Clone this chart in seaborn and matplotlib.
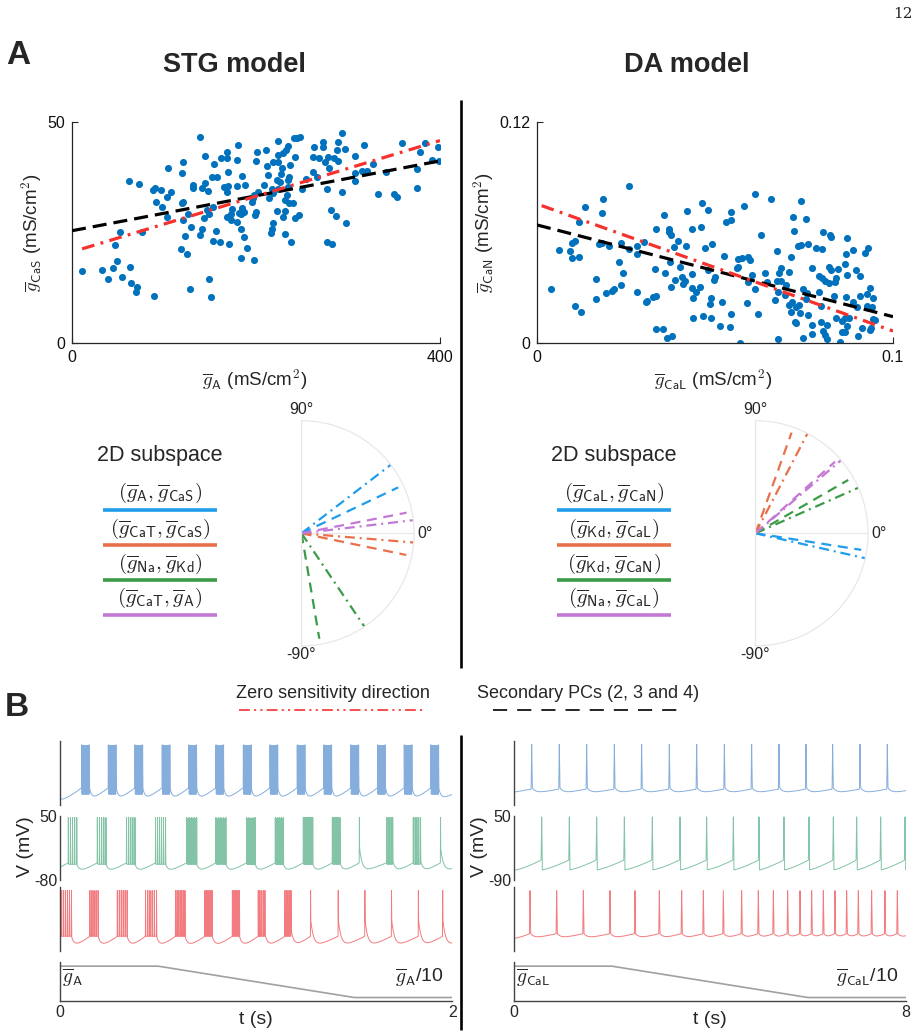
import numpy as np
import pandas as pd
import matplotlib
matplotlib.use("Agg")
import matplotlib.pyplot as plt
import seaborn as sns

# ----------------------------------------------------------------- data
# STG model scatter (mS/cm^2)
stg_gA = [139.1, 293.1, 240.9, 244.9, 247.4, 224.3, 359.0, 383.7, 288.8, 273.2,
          263.4, 272.4, 296.7, 288.4, 180.8, 200.7, 210.9, 232.6, 229.7, 223.5,
          168.8, 144.6, 161.6, 168.1, 179.0, 154.3, 120.6, 104.7, 119.2, 200.0,
          211.6, 218.1, 224.3, 227.9, 236.9, 242.4, 235.1, 262.3, 268.8, 278.6,
          275.0, 285.1, 289.5, 279.7, 307.6, 317.7, 397.4, 378.2, 390.9, 398.9,
          374.6, 341.3, 320.3, 307.6, 314.8, 326.8, 308.0, 374.6, 333.0, 350.0,
          352.9, 293.1, 297.8, 286.6, 281.1, 276.8, 282.2, 276.8, 262.3, 265.9,
          254.3, 249.6, 242.4, 247.1, 237.7, 231.5, 229.7, 231.5, 240.6, 235.9,
          231.5, 233.3, 234.4, 224.3, 226.1, 235.1, 235.9, 222.5, 226.8, 212.7,
          209.1, 217.0, 218.8, 214.1, 202.5, 198.2, 195.3, 197.1, 200.0, 198.9,
          188.0, 184.4, 179.7, 169.9, 165.2, 168.8, 169.9, 151.8, 157.2, 144.6,
          148.2, 140.9, 131.2, 131.9, 90.2, 88.4, 96.4, 107.2, 102.9, 90.9,
          97.5, 103.6, 121.0, 119.9, 126.4, 121.0, 129.0, 122.8, 118.1, 124.6,
          139.1, 140.9, 143.8, 149.3, 147.1, 152.9, 156.5, 153.6, 160.9, 171.0,
          172.5, 168.1, 172.5, 173.5, 181.9, 186.9, 184.4, 183.7, 179.0, 183.3,
          186.9, 189.8, 183.7, 197.8, 218.8, 217.0, 216.3, 222.5, 72.8, 62.0,
          76.4, 52.2, 46.7, 39.5, 33.0, 44.9, 49.3, 54.7, 63.0, 63.8,
          69.6, 71.0, 89.1, 128.3, 149.3, 150.7, 11.2]
stg_gCaS = [46.7, 47.6, 46.4, 46.4, 46.5, 45.8, 45.2, 45.3, 45.5, 45.5,
            44.3, 44.3, 44.0, 43.7, 44.9, 43.1, 43.7, 43.7, 42.9, 42.5,
            43.1, 42.4, 41.8, 41.8, 41.5, 40.5, 41.0, 39.7, 38.4, 41.2,
            40.1, 41.0, 41.0, 39.7, 40.3, 42.1, 44.6, 42.0, 41.8, 42.1,
            41.0, 41.8, 41.2, 39.7, 42.3, 44.9, 44.4, 43.1, 41.4, 41.2,
            39.4, 38.8, 38.9, 38.4, 39.0, 40.4, 36.6, 35.0, 33.7, 33.7,
            33.1, 34.2, 27.1, 28.7, 30.1, 22.8, 22.5, 34.8, 38.6, 37.5,
            37.2, 34.8, 28.2, 29.0, 22.8, 24.7, 28.4, 29.9, 31.6, 31.6,
            32.3, 33.5, 35.4, 34.8, 36.5, 36.9, 37.6, 36.9, 38.2, 38.0,
            35.7, 34.8, 33.9, 32.9, 34.1, 33.5, 32.0, 32.9, 29.7, 29.0,
            35.7, 37.8, 35.5, 38.8, 35.4, 34.1, 35.6, 37.5, 37.5, 36.1,
            34.4, 35.0, 35.7, 35.0, 35.1, 34.6, 34.6, 34.1, 33.1, 31.8,
            30.7, 28.6, 31.8, 31.6, 29.2, 27.8, 26.3, 24.3, 21.3, 20.1,
            24.4, 25.9, 28.2, 29.2, 30.1, 30.7, 25.3, 23.1, 22.8, 22.5,
            27.8, 28.6, 29.1, 30.3, 29.3, 29.7, 30.5, 29.1, 27.3, 25.9,
            23.9, 21.4, 19.2, 18.8, 27.2, 25.8, 25.0, 29.9, 35.9, 36.7,
            25.2, 25.2, 22.2, 14.4, 16.5, 16.9, 18.5, 15.0, 17.1, 13.6,
            11.6, 12.7, 10.7, 12.2, 14.5, 10.3, 16.4]
stg_pc_x = [0, 400]
stg_pc_y = [25.4, 41.2]
stg_zero_x = [11, 400]
stg_zero_y = [21.3, 45.8]

# DA model scatter (mS/cm^2)
da_gCaL = [0.0259, 0.0038, 0.0062, 0.0093, 0.0099, 0.0097, 0.0107, 0.0119, 0.0119, 0.0135,
           0.0184, 0.0182, 0.0174, 0.0182, 0.0203, 0.0235, 0.0259, 0.0280, 0.0301, 0.0282,
           0.0230, 0.0242, 0.0236, 0.0212, 0.0217, 0.0193, 0.0165, 0.0166, 0.0107, 0.0123,
           0.0282, 0.0310, 0.0306, 0.0325, 0.0334, 0.0333, 0.0353, 0.0364, 0.0378, 0.0358,
           0.0333, 0.0371, 0.0376, 0.0372, 0.0397, 0.0385, 0.0419, 0.0374, 0.0402, 0.0359,
           0.0332, 0.0388, 0.0408, 0.0411, 0.0416, 0.0375, 0.0422, 0.0464, 0.0481, 0.0436,
           0.0460, 0.0472, 0.0492, 0.0434, 0.0457, 0.0436, 0.0448, 0.0437, 0.0479, 0.0500,
           0.0497, 0.0488, 0.0487, 0.0519, 0.0439, 0.0465, 0.0489, 0.0514, 0.0543, 0.0546,
           0.0589, 0.0621, 0.0546, 0.0545, 0.0531, 0.0582, 0.0612, 0.0658, 0.0628, 0.0673,
           0.0713, 0.0741, 0.0720, 0.0723, 0.0756, 0.0734, 0.0742, 0.0762, 0.0783, 0.0800,
           0.0802, 0.0823, 0.0826, 0.0870, 0.0889, 0.0921, 0.0931, 0.0526, 0.0565, 0.0576,
           0.0593, 0.0597, 0.0563, 0.0566, 0.0604, 0.0593, 0.0612, 0.0641, 0.0647, 0.0684,
           0.0680, 0.0675, 0.0684, 0.0699, 0.0708, 0.0698, 0.0669, 0.0677, 0.0569, 0.0678,
           0.0715, 0.0713, 0.0709, 0.0727, 0.0737, 0.0746, 0.0759, 0.0756, 0.0772, 0.0739,
           0.0725, 0.0728, 0.0760, 0.0772, 0.0772, 0.0748, 0.0793, 0.0801, 0.0809, 0.0793,
           0.0797, 0.0797, 0.0814, 0.0804, 0.0809, 0.0814, 0.0821, 0.0826, 0.0821, 0.0846,
           0.0840, 0.0837, 0.0835, 0.0870, 0.0865, 0.0868, 0.0896, 0.0907, 0.0907, 0.0926,
           0.0935, 0.0945, 0.0926, 0.0940, 0.0898, 0.0889, 0.0868, 0.0840, 0.0856, 0.0865,
           0.0877, 0.0871, 0.0865, 0.0858, 0.0851, 0.0903, 0.0912, 0.0937, 0.0943, 0.0935,
           0.0949]
da_gCaN = [0.0854, 0.0291, 0.0505, 0.0500, 0.0463, 0.0541, 0.0554, 0.0659, 0.0469, 0.0740,
           0.0780, 0.0704, 0.0536, 0.0541, 0.0527, 0.0545, 0.0509, 0.0529, 0.0550, 0.0481,
           0.0442, 0.0378, 0.0315, 0.0284, 0.0293, 0.0270, 0.0346, 0.0239, 0.0201, 0.0167,
           0.0275, 0.0228, 0.0221, 0.0248, 0.0255, 0.0076, 0.0074, 0.0029, 0.0040, 0.0695,
           0.0619, 0.0619, 0.0586, 0.0605, 0.0554, 0.0519, 0.0527, 0.0442, 0.0411, 0.0382,
           0.0404, 0.0342, 0.0357, 0.0319, 0.0338, 0.0306, 0.0719, 0.0762, 0.0722, 0.0617,
           0.0630, 0.0518, 0.0536, 0.0375, 0.0306, 0.0297, 0.0279, 0.0243, 0.0396, 0.0357,
           0.0342, 0.0243, 0.0210, 0.0224, 0.0134, 0.0147, 0.0134, 0.0094, 0.0089, 0.0156,
           0.0219, 0.0156, 0.0710, 0.0668, 0.0655, 0.0744, 0.0807, 0.0780, 0.0586, 0.0500,
           0.0469, 0.0771, 0.0686, 0.0610, 0.0673, 0.0529, 0.0532, 0.0536, 0.0514, 0.0510,
           0.0603, 0.0586, 0.0577, 0.0572, 0.0505, 0.0491, 0.0518, 0.0474, 0.0456, 0.0460,
           0.0469, 0.0449, 0.0405, 0.0414, 0.0369, 0.0333, 0.0293, 0.0378, 0.0333, 0.0409,
           0.0378, 0.0337, 0.0337, 0.0315, 0.0384, 0.0261, 0.0233, 0.0279, 0.0002, 0.0022,
           0.0224, 0.0170, 0.0206, 0.0197, 0.0206, 0.0291, 0.0270, 0.0237, 0.0405, 0.0161,
           0.0116, 0.0107, 0.0152, 0.0098, 0.0051, 0.0025, 0.0364, 0.0351, 0.0338, 0.0275,
           0.0203, 0.0116, 0.0098, 0.0065, 0.0043, 0.0020, 0.0414, 0.0396, 0.0324, 0.0402,
           0.0355, 0.0333, 0.0255, 0.0369, 0.0429, 0.0483, 0.0396, 0.0366, 0.0255, 0.0264,
           0.0300, 0.0246, 0.0203, 0.0197, 0.0197, 0.0224, 0.0252, 0.0138, 0.0119, 0.0134,
           0.0134, 0.0092, 0.0062, 0.0062, 0.0007, 0.0040, 0.0080, 0.0083, 0.0129, 0.0071,
           0.0125]
da_pc_x = [0.0, 0.1]
da_pc_y = [0.0641, 0.0143]
da_zero_x = [0.0013, 0.1]
da_zero_y = [0.0746, 0.0065]

# 2D subspaces: direction angles (degrees)
stg_pairs = [("A", "CaS"), ("CaT", "CaS"), ("Na", "Kd"), ("CaT", "A")]
stg_zero_deg = [37.5, -4.7, -56.0, 6.7]
stg_pc_deg = [25.4, -11.7, -80.4, 11.1]
da_pairs = [("CaL", "CaN"), ("Kd", "CaL"), ("Kd", "CaN"), ("Na", "CaL")]
da_zero_deg = [-12.8, 62.5, 23.9, 40.5]
da_pc_deg = [-8.9, 70.3, 29.9, 42.0]
subspace_colors = ["#1F9DEB", "#E8704B", "#3C9B48", "#C478D6"]
angle_labels = ["90°", "0°", "-90°"]

# B: burst / spike onset times (s), burst durations (s), spikes per burst,
#    post-burst level (mV)
stg_blue_on = [0.109, 0.245, 0.381, 0.520, 0.656, 0.794, 0.934, 1.070, 1.209, 1.345,
               1.483, 1.619, 1.755, 1.891]
stg_blue_dur = [0.039, 0.039, 0.039, 0.039, 0.039, 0.039, 0.039, 0.039, 0.039, 0.039,
                0.039, 0.039, 0.039, 0.039]
stg_blue_n = [12, 12, 12, 12, 12, 12, 12, 12, 12, 12, 12, 12, 12, 12]
stg_blue_post = [-43, -43, -43, -43, -43, -43, -43, -43, -43, -43, -43, -43, -43, -43]

stg_green_on = [0.041, 0.189, 0.338, 0.486, 0.645, 0.794, 0.951, 1.097, 1.240, 1.388,
                1.526, 1.665, 1.801, 1.940]
stg_green_dur = [0.043, 0.044, 0.043, 0.051, 0.051, 0.051, 0.043, 0.041, 0.048, 0.039,
                 0.0, 0.031, 0.037, 0.0]
stg_green_n = [5, 5, 5, 6, 9, 9, 10, 9, 9, 7, 1, 5, 5, 1]
stg_green_post = [-48, -48, -48, -48, -48, -48, -48, -48, -48, -45, -12, -40, -40, -12]

stg_red_on = [0.007, 0.151, 0.291, 0.435, 0.588, 0.738, 0.878, 1.010, 1.146, 1.277,
              1.418, 1.554, 1.690, 1.827, 1.951]
stg_red_dur = [0.050, 0.042, 0.050, 0.056, 0.048, 0.037, 0.036, 0.034, 0.031, 0.0,
               0.0, 0.0, 0.0, 0.0, 0.0]
stg_red_n = [6, 5, 6, 6, 7, 6, 6, 5, 5, 1, 1, 1, 1, 1, 1]
stg_red_post = [-50, -50, -50, -50, -50, -50, -50, -45, -35, -14, -14, -14, -14, -14, -14]

da_blue_on = [0.361, 0.925, 1.483, 2.048, 2.605, 3.170, 3.728, 4.293, 4.850, 5.408,
              5.959, 6.503, 7.061, 7.619]
da_green_on = [0.565, 1.129, 1.687, 2.252, 2.823, 3.388, 3.932, 4.476, 5.000, 5.510,
               6.020, 6.517, 6.993, 7.483, 7.980]
da_red_on = [0.327, 0.871, 1.415, 1.959, 2.469, 2.966, 3.422, 3.864, 4.272, 4.646,
             4.986, 5.293, 5.585, 5.837, 6.075, 6.313, 6.551, 6.789, 7.027, 7.299,
             7.571, 7.823]

# conductance ramp (fraction of nominal value)
stg_ramp_t = [0.0, 0.5, 1.5, 2.0]
da_ramp_t = [0.0, 2.0, 6.0, 8.0]
ramp_g = [1.0, 1.0, 0.1, 0.1]

trace_colors = ["#86AEDC", "#82C4A5", "#F27B7F"]

# ----------------------------------------------------------------- style
sns.set_theme(style="white")
plt.rcParams["font.family"] = ["Liberation Sans", "DejaVu Sans"]
plt.rcParams["mathtext.fontset"] = "cm"
plt.rcParams["axes.unicode_minus"] = False

W, H = 920, 1036
fig = plt.figure(figsize=(W / 100, H / 100), dpi=100)
fig.patch.set_facecolor("white")

ov = fig.add_axes([0, 0, 1, 1])
ov.set_xlim(0, W)
ov.set_ylim(H, 0)
ov.set_axis_off()
ov.patch.set_alpha(0)


def ax_px(x0, y0, x1, y1, **kw):
    return fig.add_axes([x0 / W, 1 - y1 / H, (x1 - x0) / W, (y1 - y0) / H], **kw)


def gsym(sub):
    return r"\overline{g}_{\mathsf{" + sub + "}}"


SPINE = "#262626"

# ----------------------------------------------------------------- A: scatter
def scatter_panel(box, x, y, pcx, pcy, zx, zy, xlim, ylim, xt, yt):
    ax = ax_px(*box)
    sns.scatterplot(x=x, y=y, ax=ax, s=26, color="#0072BD", linewidth=0, zorder=2)
    sns.lineplot(x=pcx, y=pcy, ax=ax, color="black", lw=2.3, estimator=None,
                 sort=False, errorbar=None, zorder=3)
    ax.lines[-1].set_dashes((4.4, 2.2))
    sns.lineplot(x=zx, y=zy, ax=ax, color="#F5322D", lw=2.3, estimator=None,
                 sort=False, errorbar=None, zorder=3)
    ax.lines[-1].set_dashes((4.0, 2.0, 0.9, 2.0))
    ax.set_xlim(*xlim)
    ax.set_ylim(*ylim)
    ax.set_xticks(xt[0])
    ax.set_xticklabels(xt[1])
    ax.set_yticks(yt[0])
    ax.set_yticklabels(yt[1])
    ax.set_xlabel("")
    ax.set_ylabel("")
    for s in ["top", "right"]:
        ax.spines[s].set_visible(False)
    for s in ["left", "bottom"]:
        ax.spines[s].set_color(SPINE)
        ax.spines[s].set_linewidth(0.9)
    ax.tick_params(direction="in", length=4, width=0.8, labelsize=11.5, pad=5,
                   colors=SPINE, labelcolor="#111111", bottom=True, left=True)
    ax.patch.set_alpha(0)
    return ax


scatter_panel((72, 122, 440, 343), stg_gA, stg_gCaS, stg_pc_x, stg_pc_y,
              stg_zero_x, stg_zero_y, (0, 400), (0, 50),
              ([0, 400], ["0", "400"]), ([0, 50], ["0", "50"]))
scatter_panel((537, 122, 893, 343), da_gCaL, da_gCaN, da_pc_x, da_pc_y,
              da_zero_x, da_zero_y, (0, 0.1), (0, 0.12),
              ([0, 0.1], ["0", "0.1"]), ([0, 0.12], ["0", "0.12"]))

ov.text(255, 380, "$" + gsym("A") + r"$ (mS/cm$^{\mathsf{2}}$)", ha="center",
        va="center", fontsize=13.5)
ov.text(32, 233, "$" + gsym("CaS") + r"$ (mS/cm$^{\mathsf{2}}$)", ha="center",
        va="center", fontsize=13.5, rotation=90)
ov.text(713, 380, "$" + gsym("CaL") + r"$ (mS/cm$^{\mathsf{2}}$)", ha="center",
        va="center", fontsize=13.5)
ov.text(484, 233, "$" + gsym("CaN") + r"$ (mS/cm$^{\mathsf{2}}$)", ha="center",
        va="center", fontsize=13.5, rotation=90)

# ----------------------------------------------------------------- A: polar
def polar_panel(cx, cy, r, zero_deg, pc_deg):
    # square box: the half disc is centred in it, so its centre sits at cx
    ax = ax_px(cx - r / 2, cy - r, cx + 1.5 * r, cy + r, projection="polar")
    ax.set_thetamin(-90)
    ax.set_thetamax(90)
    ax.set_rlim(0, 1)
    ax.set_rticks([])
    ax.set_thetagrids([-90, 0, 90], labels=["", "", ""])
    ax.grid(True, color="#E8E8E8", lw=0.9)
    for sp in ax.spines.values():
        sp.set_color("#E8E8E8")
        sp.set_linewidth(0.9)
    for c, z, p in zip(subspace_colors, zero_deg, pc_deg):
        ax.plot([np.deg2rad(z)] * 2, [0, 1.0], color=c, lw=1.6,
                dashes=(4.5, 2.2, 0.9, 2.2))
        ax.plot([np.deg2rad(p)] * 2, [0, 0.95], color=c, lw=1.6, dashes=(4.5, 3.0))
    ax.patch.set_alpha(0)
    ov.text(cx, cy - r - 11, angle_labels[0], ha="center", va="center",
            fontsize=11.5)
    ov.text(cx + r + 3, cy, angle_labels[1], ha="left", va="center", fontsize=11.5)
    ov.text(cx, cy + r + 9, angle_labels[2], ha="center", va="center",
            fontsize=11.5)
    return ax


polar_panel(301.5, 533.3, 112.6, stg_zero_deg, stg_pc_deg)
polar_panel(755.5, 533.3, 112.6, da_zero_deg, da_pc_deg)


def subspace_legend(cx, pairs):
    ov.text(cx, 455, "2D subspace", ha="center", va="center", fontsize=15.5)
    text_y = [493, 529, 564, 598]
    line_y = [509.5, 545, 580, 614.5]
    for (a, b), c, ty, ly in zip(pairs, subspace_colors, text_y, line_y):
        ov.text(cx, ty, "$(" + gsym(a) + ", " + gsym(b) + ")$", ha="center",
                va="center", fontsize=15)
        ov.plot([cx - 57, cx + 57], [ly, ly], color=c, lw=2.6,
                solid_capstyle="butt")


subspace_legend(160, stg_pairs)
subspace_legend(614, da_pairs)

# ----------------------------------------------------------------- titles etc.
ov.text(913, 14, "12", ha="right", va="center", fontsize=11,
        family="DejaVu Serif")
ov.text(18, 56, "A", ha="center", va="center", fontsize=24, fontweight="bold")
ov.text(17, 707, "B", ha="center", va="center", fontsize=24, fontweight="bold")
ov.text(234, 64.5, "STG model", ha="center", va="center", fontsize=19.5,
        fontweight="bold")
ov.text(687, 64.5, "DA model", ha="center", va="center", fontsize=19.5,
        fontweight="bold")
ov.plot([461, 461], [100, 668], color="black", lw=1.9, solid_capstyle="butt")
ov.plot([461, 461], [735, 1030], color="black", lw=1.9, solid_capstyle="butt")

ov.text(333, 694, "Zero sensitivity direction", ha="center", va="center",
        fontsize=13)
l1, = ov.plot([239, 426], [709.5, 709.5], color="#F5322D", lw=1.2)
l1.set_dashes((6.5, 2.5, 1.3, 2.5, 1.3, 2.5))
ov.text(588, 694, "Secondary PCs (2, 3 and 4)", ha="center", va="center",
        fontsize=13)
l2, = ov.plot([493, 684], [709.5, 709.5], color="black", lw=1.2)
l2.set_dashes((8.5, 6.0))

# ----------------------------------------------------------------- B: traces
def make_trace(t, on, dur, n, post, v_trough, v_pre, v_burst, v_peak, tau, hw):
    on = np.asarray(on, float)
    dur = np.asarray(dur, float)
    post = np.asarray(post, float)
    ends = on + dur
    m = len(on)
    period = np.median(np.diff(on))
    k = np.searchsorted(on, t, side="right") - 1
    kc = np.clip(k, 0, m - 1)
    prev_end = np.where(k >= 0, ends[kc], on[0] - period + dur[0])
    prev_post = np.where(k >= 0, post[kc], v_trough)
    nxt = np.where(k + 1 < m, on[np.clip(k + 1, 0, m - 1)], ends[-1] + period)
    frac = np.clip((t - prev_end) / (nxt - prev_end), 0, 1)
    dt = np.clip(t - prev_end, 0, None)
    v = (v_trough + (v_pre - v_trough) * frac ** 1.3
         + (prev_post - v_trough) * np.exp(-dt / tau) * (1 - frac))
    in_burst = (k >= 0) & (t <= ends[kc])
    v = np.where(in_burst, v_burst, v)
    for s, d, c in zip(on, dur, n):
        times = s + np.linspace(0, d, c) if c > 1 else [s]
        for ts in times:
            sel = np.abs(t - ts) < hw
            tri = 1 - np.abs(t[sel] - ts) / hw
            v[sel] = np.maximum(v[sel], v_burst + tri * (v_peak - v_burst))
    return v


t_stg = np.linspace(0, 2, 40001)
t_da = np.linspace(0, 8, 32001)
ones = lambda lst: [1] * len(lst)
zeros = lambda lst: [0.0] * len(lst)

stg_traces = [
    make_trace(t_stg, stg_blue_on, stg_blue_dur, stg_blue_n, stg_blue_post,
               -68, -45, -58, 42, 0.012, 0.0012),
    make_trace(t_stg, stg_green_on, stg_green_dur, stg_green_n, stg_green_post,
               -63, -45, -48, 47, 0.015, 0.0010),
    make_trace(t_stg, stg_red_on, stg_red_dur, stg_red_n, stg_red_post,
               -71, -50, -50, 43, 0.016, 0.0010),
]
da_traces = [
    make_trace(t_da, da_blue_on, zeros(da_blue_on), ones(da_blue_on),
               [-50] * len(da_blue_on), -64, -55, -55, 43, 0.08, 0.012),
    make_trace(t_da, da_green_on, zeros(da_green_on), ones(da_green_on),
               [-68] * len(da_green_on), -68, -46, -46, 48, 0.05, 0.012),
    make_trace(t_da, da_red_on, zeros(da_red_on), ones(da_red_on),
               [-50] * len(da_red_on), -62, -52, -52, 42, 0.08, 0.012),
]

panel_rows = [(741, 805), (816, 880), (887, 951)]


def trace_column(x0, x1, t, traces, ylim, tmax, ylab_ticks, ramp_t, gname, vx):
    for (y0, y1), v, c, i in zip(panel_rows, traces, trace_colors, range(3)):
        ax = ax_px(x0, y0, x1, y1)
        df = pd.DataFrame({"t": t, "v": v})
        sns.lineplot(data=df, x="t", y="v", ax=ax, color=c, lw=0.7,
                     estimator=None, sort=False, errorbar=None)
        ax.set_xlim(0, tmax)
        ax.set_ylim(*ylim)
        ax.set_xlabel("")
        ax.set_ylabel("")
        ax.set_xticks([])
        for s in ["top", "right", "bottom"]:
            ax.spines[s].set_visible(False)
        ax.spines["left"].set_color("#444444")
        ax.spines["left"].set_linewidth(1.0)
        if i == 1:
            ax.set_yticks(list(ylim))
            ax.set_yticklabels(ylab_ticks)
            ax.tick_params(axis="y", length=0, pad=2, labelsize=11.5)
        else:
            ax.set_yticks([])
        ax.patch.set_alpha(0)
    axr = ax_px(x0, 962, x1, 1001)
    sns.lineplot(x=ramp_t, y=ramp_g, ax=axr, color="#A0A0A0", lw=1.2,
                 estimator=None, sort=False, errorbar=None)
    axr.set_xlim(0, tmax)
    axr.set_ylim(0, 1.12)
    axr.set_yticks([])
    axr.set_xticks([0, tmax])
    axr.set_xticklabels(["0", str(int(tmax))])
    axr.tick_params(axis="x", length=0, pad=3, labelsize=11.5)
    for s in ["top", "right"]:
        axr.spines[s].set_visible(False)
    for s in ["left", "bottom"]:
        axr.spines[s].set_color("#444444")
        axr.spines[s].set_linewidth(1.0)
    axr.patch.set_alpha(0)
    ov.text(x0 + 2, 978, "$" + gsym(gname) + "$", ha="left", va="center",
            fontsize=14)
    ov.text(x1 - 8, 978, "$" + gsym(gname) + "$/10", ha="right", va="center",
            fontsize=14)
    ov.text((x0 + x1) / 2 - 0, 1020, "t (s)", ha="center", va="center",
            fontsize=14)
    ov.text(vx, 847, "V (mV)", ha="center", va="center", fontsize=14,
            rotation=90)


trace_column(60.3, 452.3, t_stg, stg_traces, (-80, 50), 2, ["-80", "50"],
             stg_ramp_t, "A", 26)
trace_column(514, 906, t_da, da_traces, (-90, 50), 8, ["-90", "50"],
             da_ramp_t, "CaL", 480)

fig.savefig("out.png", dpi=100, facecolor="white")
